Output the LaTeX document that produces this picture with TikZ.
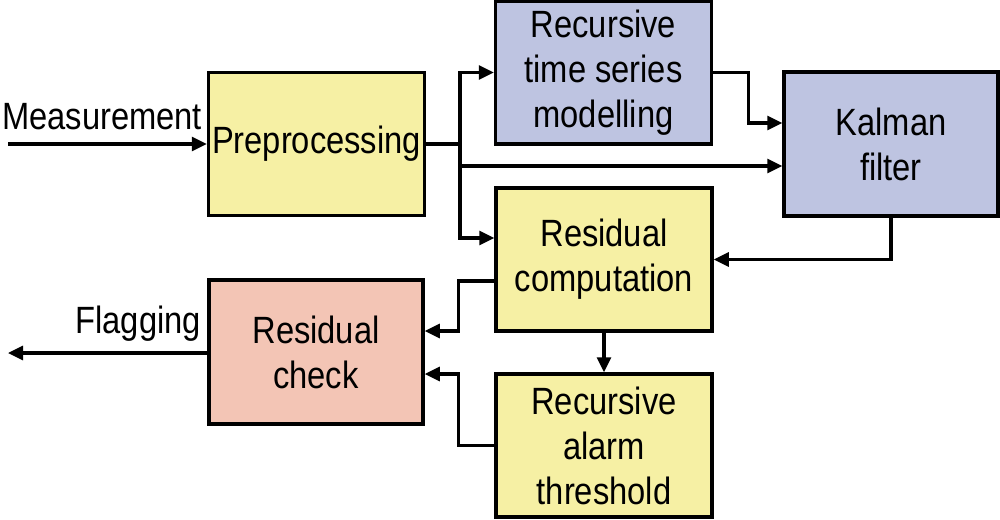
\documentclass[tikz,border=0pt]{standalone}
\usepackage{fontspec}
\setmainfont{Liberation Sans}[FakeStretch=0.86]
\usetikzlibrary{arrows.meta}
\definecolor{byellow}{RGB}{246,240,164}
\definecolor{bblue}{RGB}{190,196,225}
\definecolor{bsalmon}{RGB}{243,197,181}
\tikzset{
  blk/.style={draw=black, line width=3.5pt, minimum width=216pt, minimum height=143pt,
    align=center, inner sep=0pt, font=\fontsize{38}{45}\selectfont},
  lbl/.style={inner sep=0pt, font=\fontsize{38}{45}\selectfont},
  arr/.style={line width=3.2pt, -{Triangle[length=15pt,width=14pt]}},
  ln/.style={line width=3.2pt}
}
\begin{document}
\begin{tikzpicture}[x=1pt,y=-1pt]
\useasboundingbox (0,0) rectangle (1000,519);
\node[blk, fill=byellow] (pre) at (316.5,144) {Preprocessing};
\node[blk, fill=bblue] (rts) at (603.5,72.5) {Recursive\\time series\\modelling};
\node[blk, fill=bblue, minimum width=214pt, minimum height=144pt] (kal) at (891,144) {Kalman\\filter};
\node[blk, fill=byellow] (rc) at (604,259.5) {Residual\\computation};
\node[blk, fill=byellow] (rat) at (604,445.5) {Recursive\\alarm\\threshold};
\node[blk, fill=bsalmon, minimum width=214pt, minimum height=144pt] (chk) at (316,352) {Residual\\check};
\node[lbl, anchor=base west] (meas) at (2,129) {Measurement};
\node[lbl, anchor=base east] (flag) at (201,333) {Flagging};
\coordinate (min) at (8,144);
\coordinate (fout) at (8,353);
\coordinate (j) at (460,144);
\draw[arr] (min) -- (pre.west);
\draw[ln] (pre.east) -- (j);
\draw[arr] (j) |- (rts.west);
\draw[arr] (j) |- ([yshift=-22pt]kal.west);
\draw[arr] (j) |- ([yshift=21.5pt]rc.west);
\draw[arr] (rts.east) -- ++(35,0) |- ([yshift=21pt]kal.west);
\draw[arr] (kal.south) |- (rc.east);
\draw[arr] ([yshift=-21.5pt]rc.west) -- ++(-36,0) |- ([yshift=21pt]chk.east);
\draw[arr] (rc.south) -- (rat.north);
\draw[arr] (rat.west) -- ++(-36,0) |- ([yshift=-22pt]chk.east);
\draw[arr] (chk.west |- fout) -- (fout);
\end{tikzpicture}
\end{document}
